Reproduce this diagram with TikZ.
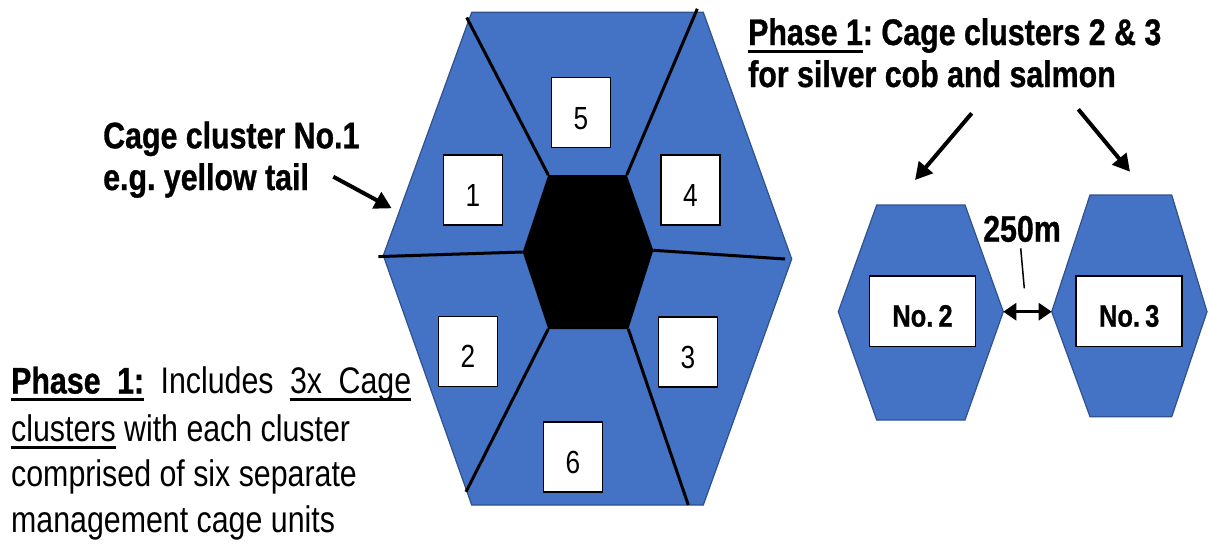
\documentclass[tikz,border=0pt]{standalone}
\usepackage{fontspec}
\usetikzlibrary{arrows.meta}
\newfontfamily\narrow{Liberation Sans}[FakeStretch=0.82,BoldFeatures={FakeBold=0.8}]
\definecolor{cblue}{HTML}{4472C4}
\definecolor{cblueb}{HTML}{2F528F}
\frenchspacing
\newcommand\myul[1]{\setbox0\hbox{#1}\rlap{\rule[-7.5pt]{\wd0}{3pt}}\box0\relax}
\newcommand\ulgap{\leaders\hrule height -4.5pt depth 7.5pt\hskip 6pt plus 1fil}
\newcommand\plgap{\hskip 6pt plus 1fil}
\tikzset{
  lbl/.style={inner sep=0pt, anchor=base west, font=\narrow\frenchspacing\fontsize{37}{42}\selectfont},
  blbl/.style={inner sep=0pt, anchor=base west, font=\narrow\frenchspacing\bfseries\fontsize{37}{42}\selectfont},
  hexfill/.style={fill=cblue, draw=cblueb, line width=1.2pt, line join=miter},
  divider/.style={draw=black, line width=3pt},
  numbox/.style={draw=black, line width=1.5pt, fill=white, inner sep=0pt,
    minimum width=59pt, minimum height=70pt,
    font=\narrow\fontsize{32}{32}\selectfont, text height=33pt, text depth=0pt},
  nobox/.style={draw=black, line width=1.5pt, fill=white, inner sep=0pt,
    minimum width=106pt, minimum height=70.5pt,
    font=\narrow\bfseries\fontsize{31}{31}\selectfont, text height=30.5pt, text depth=0pt},
  bigarrow/.style={draw=black, line width=4pt, -{Triangle[length=17pt,width=18pt]}},
  dblarrow/.style={draw=black, line width=3pt, {Triangle[length=13pt,width=17pt]}-{Triangle[length=13pt,width=17pt]}},
  leader/.style={draw=black, line width=1.5pt}
}
\begin{document}
\begin{tikzpicture}[x=1pt,y=-1pt]
\useasboundingbox (0,0) rectangle (1208,549);

% big hexagon
\coordinate (HTL) at (471.7,12.3);
\coordinate (HTR) at (703.3,12.3);
\coordinate (HR) at (791.7,259);
\coordinate (HBR) at (703.3,505);
\coordinate (HBL) at (471.7,505);
\coordinate (HL) at (383.3,255.5);
\path[hexfill] (HTL) -- (HTR) -- (HR) -- (HBR) -- (HBL) -- (HL) -- cycle;

% inner hexagon
\coordinate (ITL) at (548.3,175);
\coordinate (ITR) at (626.7,175);
\coordinate (IR) at (653.3,250.3);
\coordinate (IBR) at (628.3,329);
\coordinate (IBL) at (548.3,329);
\coordinate (IL) at (522.7,252);

% divider ends
\coordinate (D1) at (466.7,17.5);
\coordinate (D2) at (697.3,8.8);
\coordinate (D3) at (785,259);
\coordinate (D4) at (378.3,256.6);
\coordinate (D5) at (466,491.8);
\coordinate (D6) at (688.3,505);
\draw[divider] (ITL) -- (D1);
\draw[divider] (ITR) -- (D2);
\draw[divider] (IR) -- (D3);
\draw[divider] (IL) -- (D4);
\draw[divider] (IBL) -- (D5);
\draw[divider] (IBR) -- (D6);
\fill[black] (ITL) -- (ITR) -- (IR) -- (IBR) -- (IBL) -- (IL) -- cycle;

% cage boxes
\node[numbox] (b5) at (580.9,112.7) {5};
\node[numbox] (b1) at (472.8,189.9) {1};
\node[numbox] (b4) at (690.5,189.9) {4};
\node[numbox] (b2) at (467.8,351.4) {2};
\node[numbox] (b3) at (687.8,352.1) {3};
\node[numbox] (b6) at (572.8,456.8) {6};

% small hexagons
\coordinate (ATL) at (876.7,205);
\coordinate (ATR) at (965,205);
\coordinate (AR) at (1003.3,311.7);
\coordinate (ABR) at (965,420);
\coordinate (ABL) at (876.7,420);
\coordinate (AL) at (838.3,311.7);
\path[hexfill] (ATL) -- (ATR) -- (AR) -- (ABR) -- (ABL) -- (AL) -- cycle;
\coordinate (BTL) at (1090,195);
\coordinate (BTR) at (1171.7,195);
\coordinate (BR) at (1207,311.7);
\coordinate (BBR) at (1171.7,416.7);
\coordinate (BBL) at (1090,416.7);
\coordinate (BL) at (1051.7,311.7);
\path[hexfill] (BTL) -- (BTR) -- (BR) -- (BBR) -- (BBL) -- (BL) -- cycle;

\node[nobox] (n2) at (922.5,311.4) {No.\,2};
\node[nobox] (n3) at (1129.2,311.4) {No.\,3};

% distance
\draw[dblarrow] (AR) -- (BL);
\node[blbl, anchor=base] (dist) at (1022,241.7) {250m};
\coordinate (Ls) at (1020.7,248.3);
\coordinate (Le) at (1024.3,288.3);
\draw[leader] (Ls) -- (Le);

% labels
\node[blbl] (c1a) at (103,148.3) {Cage cluster No.1};
\node[blbl] (c1b) at (103,190) {e.g. yellow tail};
\coordinate (Y1) at (333.3,176.7);
\coordinate (Y2) at (391.7,208.3);
\draw[bigarrow] (Y1) -- (Y2);

\node[blbl] (t1) at (748,45) {\myul{Phase 1}: Cage clusters 2 \& 3};
\node[blbl] (t2) at (748,87) {for silver cob and salmon};
\coordinate (P1) at (971.7,113.3);
\coordinate (P2) at (915,180);
\coordinate (Q1) at (1078.3,109.3);
\coordinate (Q2) at (1130,171.7);
\draw[bigarrow] (P1) -- (P2);
\draw[bigarrow] (Q1) -- (Q2);

\node[lbl] (p1) at (11,393.5) {\hbox to 400pt{\myul{\bfseries Phase}\ulgap\myul{\bfseries 1:}\plgap Includes\plgap\myul{3x}\ulgap\myul{Cage}}};
\node[lbl] (p2) at (11,441) {\myul{clusters} with each cluster};
\node[lbl] (p3) at (11,486) {comprised of six separate};
\node[lbl] (p4) at (11,532) {management cage units};
\end{tikzpicture}
\end{document}
